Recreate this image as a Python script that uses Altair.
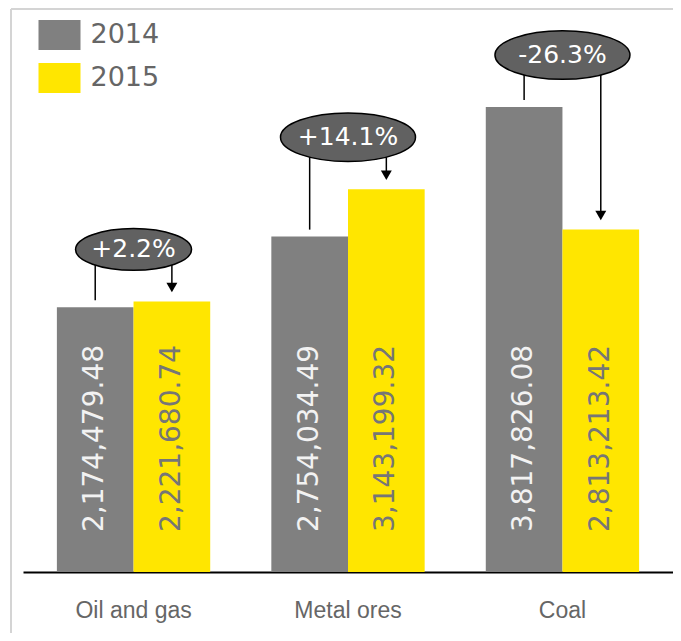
import altair as alt
import pandas as pd

categories = ["Oil and gas", "Metal ores", "Coal"]
years = ["2014", "2015"]
values_2014 = [2174479.48, 2754034.49, 3817826.08]
values_2015 = [2221680.74, 3143199.32, 2813213.42]
changes = ["+2.2%", "+14.1%", "-26.3%"]

rows = []
for c, a, b, p in zip(categories, values_2014, values_2015, changes):
    top = max(a, b)
    rows.append({"cat": c, "year": years[0], "value": a, "top": top, "pct": p})
    rows.append({"cat": c, "year": years[1], "value": b, "top": top, "pct": p})
df = pd.DataFrame(rows)

GREY = "#808080"
YELLOW = "#FFE600"
ELLIPSE = "M-1,0A1,0.36,0,1,1,1,0A1,0.36,0,1,1,-1,0Z"
RECT = "M-1,-0.714H1V0.714H-1Z"
ELL_OFF = -52

x = alt.X("cat:N", sort=categories,
          scale=alt.Scale(paddingInner=0.285, paddingOuter=0.158),
          axis=alt.Axis(title=None, labelAngle=0, ticks=False, labelPadding=27))
xo = alt.XOffset("year:N", sort=years, scale=alt.Scale(paddingInner=0, paddingOuter=0))
yscale = alt.Scale(domain=[0, 4500000])

base = alt.Chart(df)

bars = base.mark_bar().encode(
    x=x, xOffset=xo,
    y=alt.Y("value:Q", scale=yscale, axis=None),
    color=alt.Color("year:N", sort=years,
                    scale=alt.Scale(domain=years, range=[GREY, YELLOW]),
                    legend=alt.Legend(title=None)),
)

def bar_labels(year, colour):
    return base.transform_filter(alt.datum.year == year).transform_calculate(
        zero="0").mark_text(angle=270, align="left", baseline="middle", dx=40,
                            fontSize=28, font="DejaVu Sans", color=colour).encode(
        x=x, xOffset=xo,
        y=alt.Y("zero:Q", scale=yscale, axis=None),
        text=alt.Text("value:Q", format=",.2f"),
    )

text14 = bar_labels("2014", "#f2f2f2")
text15 = bar_labels("2015", "#767676")

rule14 = base.transform_filter(alt.datum.year == "2014").mark_rule(
    color="black", strokeWidth=1.5, yOffset=ELL_OFF, y2Offset=-7).encode(
    x=x, xOffset=xo,
    y=alt.Y("top:Q", scale=yscale, axis=None), y2="value:Q")

rule15 = base.transform_filter(alt.datum.year == "2015").mark_rule(
    color="black", strokeWidth=1.5, yOffset=ELL_OFF, y2Offset=-16).encode(
    x=x, xOffset=xo,
    y=alt.Y("top:Q", scale=yscale, axis=None), y2="value:Q")

arrows = base.transform_filter(alt.datum.year == "2015").mark_point(
    shape="triangle-down", filled=True, color="black", opacity=1, size=120, yOffset=-14).encode(
    x=x, xOffset=xo,
    y=alt.Y("value:Q", scale=yscale, axis=None))

ell_base = base.transform_filter(alt.datum.year == "2014").transform_calculate(
    esize="pow(19 * length(datum.pct) + 21, 2)")

ellipses = ell_base.mark_point(shape=ELLIPSE, filled=True, fill="#616161", stroke="black",
                               strokeWidth=1.5, opacity=1, yOffset=ELL_OFF).encode(
    x=x,
    y=alt.Y("top:Q", scale=yscale, axis=None),
    size=alt.Size("esize:Q", scale=None),
)

ell_text = ell_base.mark_text(fontSize=25, font="DejaVu Sans", color="white",
                              baseline="middle", yOffset=ELL_OFF).encode(
    x=x,
    y=alt.Y("top:Q", scale=yscale, axis=None),
    text="pct:N",
)

frame_left = alt.Chart(pd.DataFrame({"a": [0]})).mark_rule(color="#d4d4d4", strokeWidth=2).encode(
    x=alt.value(-12), y=alt.value(-15), y2=alt.value(640))
frame_top = alt.Chart(pd.DataFrame({"a": [0]})).mark_rule(color="#d4d4d4", strokeWidth=2).encode(
    x=alt.value(-12), x2=alt.value(700), y=alt.value(-15))

chart = alt.layer(bars, text14, text15, rule14, rule15, arrows, ellipses, ell_text,
                  frame_left, frame_top).properties(
    width=650, height=548,
    padding={"left": 15, "top": 16, "right": 0, "bottom": 61},
    autosize=alt.AutoSizeParams(type="none"),
).configure_view(stroke=None).configure_axis(
    domainColor="black", domainWidth=2, grid=False,
    labelFont="Liberation Sans", labelFontSize=23, labelColor="#666666",
).configure_legend(
    orient="none", legendX=15.5, legendY=-10, padding=0, offset=0,
    symbolType=RECT, symbolSize=1764, symbolStrokeWidth=0, symbolOpacity=1,
    labelFont="DejaVu Sans", labelFontSize=27, labelColor="#666666",
    rowPadding=7, labelOffset=10,
)

chart.save("out.html", embed_options={"renderer": "svg", "actions": False})
